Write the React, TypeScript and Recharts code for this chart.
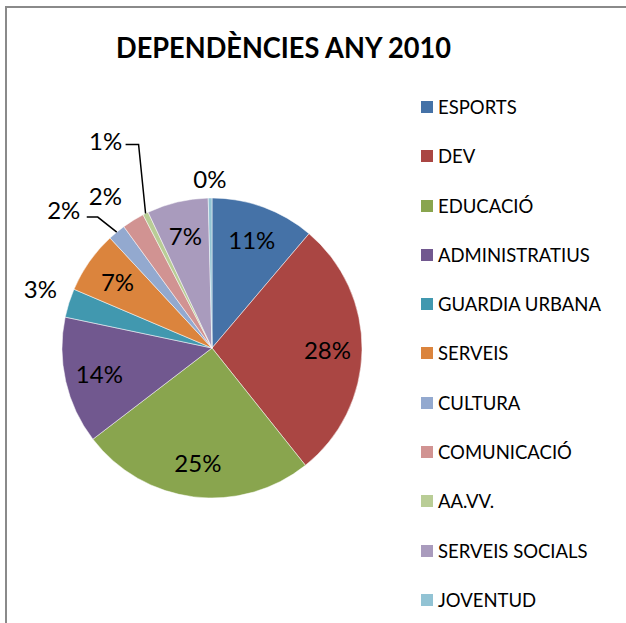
import { PieChart, Pie, Legend } from "recharts";

// Dependències any 2010 (share of total)
const categories = [
  "ESPORTS",
  "DEV",
  "EDUCACIÓ",
  "ADMINISTRATIUS",
  "GUARDIA URBANA",
  "SERVEIS",
  "CULTURA",
  "COMUNICACIÓ",
  "AA.VV.",
  "SERVEIS SOCIALS",
  "JOVENTUD",
];
const shares = [11.2, 28.1, 25.3, 13.7, 3.1, 6.7, 1.9, 2.4, 0.6, 6.6, 0.4];
const colors = [
  "#4572A7",
  "#AA4643",
  "#89A54E",
  "#71588F",
  "#4198AF",
  "#DB843D",
  "#93A9CF",
  "#D19392",
  "#B9CD96",
  "#A99BBD",
  "#92C3D4",
];
const title = "DEPENDÈNCIES ANY 2010";

const data = categories.map((name, i) => ({ name, value: shares[i], fill: colors[i] }));

const FONT = "Lato, 'Open Sans', sans-serif";
const RAD = Math.PI / 180;

// how each data label sits (Excel "best fit" look)
type Place = {
  kind: "in" | "out" | "elbow";
  r?: number;
  dx?: number;
  dy?: number;
  ex?: number;
  ey?: number;
  tail?: number;
};
const placement: Place[] = [
  { kind: "in" },
  { kind: "in" },
  { kind: "in" },
  { kind: "in" },
  { kind: "out", r: 32, dx: 2, dy: -5 },
  { kind: "in" },
  { kind: "elbow", ex: -19, ey: -15, tail: 11, dx: -23, dy: -8 },
  { kind: "out", r: 36, dx: -9, dy: 6 },
  { kind: "elbow", ex: -7, ey: -69, tail: 13, dx: -20, dy: -4 },
  { kind: "in" },
  { kind: "out", r: 20 },
];

function renderLabel(props: any) {
  const { cx, cy, midAngle, outerRadius, percent, index } = props;
  const p = placement[index];
  const cos = Math.cos(-midAngle * RAD);
  const sin = Math.sin(-midAngle * RAD);
  const text = `${Math.round(percent * 100)}%`;
  const textProps = {
    textAnchor: "middle" as const,
    dominantBaseline: "central" as const,
    fontFamily: FONT,
    fontSize: 24,
    fill: "#000",
  };

  if (p.kind === "in") {
    const r = outerRadius * 0.77;
    return (
      <text x={cx + r * cos} y={cy + r * sin} {...textProps}>
        {text}
      </text>
    );
  }
  if (p.kind === "out") {
    const r = outerRadius + (p.r ?? 20);
    return (
      <text x={cx + r * cos + (p.dx ?? 0)} y={cy + r * sin + (p.dy ?? 0)} {...textProps}>
        {text}
      </text>
    );
  }
  // elbow leader line
  const sx = cx + outerRadius * cos;
  const sy = cy + outerRadius * sin;
  const mx = sx + (p.ex ?? 0);
  const my = sy + (p.ey ?? 0);
  const tx = mx - (p.tail ?? 10);
  return (
    <g>
      <polyline
        points={`${sx},${sy} ${mx},${my} ${tx},${my}`}
        fill="none"
        stroke="#000"
        strokeWidth={1.5}
      />
      <text x={tx + (p.dx ?? 0)} y={my + (p.dy ?? 0)} {...textProps}>
        {text}
      </text>
    </g>
  );
}

// legend keeps the series order (Recharts would sort it by name)
function renderLegend() {
  return (
    <div style={{ fontFamily: FONT, fontSize: 18.5, color: "#000" }}>
      {categories.map((name, i) => (
        <div
          key={name}
          style={{ height: 49.3, display: "flex", alignItems: "center", whiteSpace: "nowrap" }}
        >
          <span
            style={{
              display: "inline-block",
              width: 12,
              height: 12,
              background: colors[i],
              marginRight: 5,
            }}
          />
          <span>{name}</span>
        </div>
      ))}
    </div>
  );
}

export default function App() {
  return (
    <div
      style={{
        position: "absolute",
        left: 0,
        top: 0,
        width: 626,
        height: 623,
        overflow: "hidden",
        background: "#fff",
      }}
    >
      <div
        style={{
          position: "absolute",
          left: 5,
          top: 6,
          width: 700,
          height: 700,
          borderTop: "2px solid #8a8a8a",
          borderLeft: "2px solid #8a8a8a",
        }}
      />
      <svg width={626} height={80} style={{ position: "absolute", left: 0, top: 0 }}>
        <text
          x={116}
          y={58}
          textLength={335}
          lengthAdjust="spacingAndGlyphs"
          fontFamily={FONT}
          fontWeight="bold"
          fontSize={29}
          fill="#000"
        >
          {title}
        </text>
      </svg>
      <div style={{ position: "absolute", left: 0, top: 0 }}>
        <PieChart width={626} height={623} margin={{ top: 0, right: 0, bottom: 0, left: 0 }}>
          <Pie
            data={data}
            dataKey="value"
            nameKey="name"
            cx={212}
            cy={348}
            outerRadius={150}
            startAngle={90}
            endAngle={-270}
            stroke="#ffffff"
            strokeWidth={0.5}
            label={renderLabel}
            labelLine={false}
            isAnimationActive={false}
          />
          <Legend
            layout="vertical"
            align="right"
            verticalAlign="top"
            content={renderLegend}
            wrapperStyle={{ left: 421, top: 82.35, width: 200 }}
          />
        </PieChart>
      </div>
    </div>
  );
}
